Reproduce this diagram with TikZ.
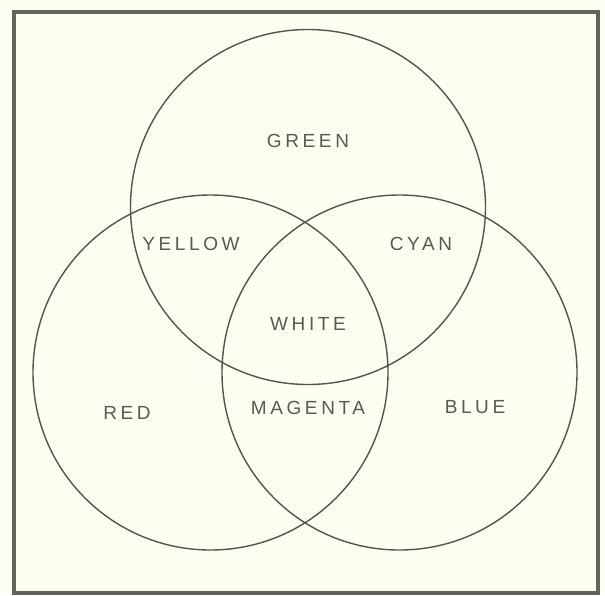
\documentclass[tikz,border=0pt]{standalone}
\usepackage{fontspec}
\setmainfont{Liberation Sans}[LetterSpace=19]
\begin{document}
\begin{tikzpicture}[x=1pt,y=-1pt,
  circ/.style={draw=linegrey,line width=1.4pt},
  lab/.style={text=textgrey,font=\fontsize{19}{19}\selectfont,inner sep=0pt}]
\definecolor{linegrey}{HTML}{55554F}
\definecolor{textgrey}{HTML}{5A5A54}
\definecolor{paper}{HTML}{FDFDF2}
\definecolor{framegrey}{HTML}{65635E}
\fill[paper] (0,0) rectangle (605,595);
\useasboundingbox (0,0) rectangle (605,595);
\draw[framegrey,line width=3.2pt] (14,12) rectangle (598,593);
\coordinate (cg) at (308,207);
\coordinate (cr) at (210.5,372.5);
\coordinate (cb) at (399.5,372.5);
\draw[circ] (cg) circle (177.5);
\draw[circ] (cr) circle (177.5);
\draw[circ] (cb) circle (177.5);
\node[lab] (green) at (308,141) {GREEN};
\node[lab] (yellow) at (191,244) {YELLOW};
\node[lab] (cyan) at (421,244) {CYAN};
\node[lab] (white) at (308,324) {WHITE};
\node[lab] (red) at (127,413) {RED};
\node[lab] (magenta) at (308,408) {MAGENTA};
\node[lab] (blue) at (475,407) {BLUE};
\end{tikzpicture}
\end{document}
